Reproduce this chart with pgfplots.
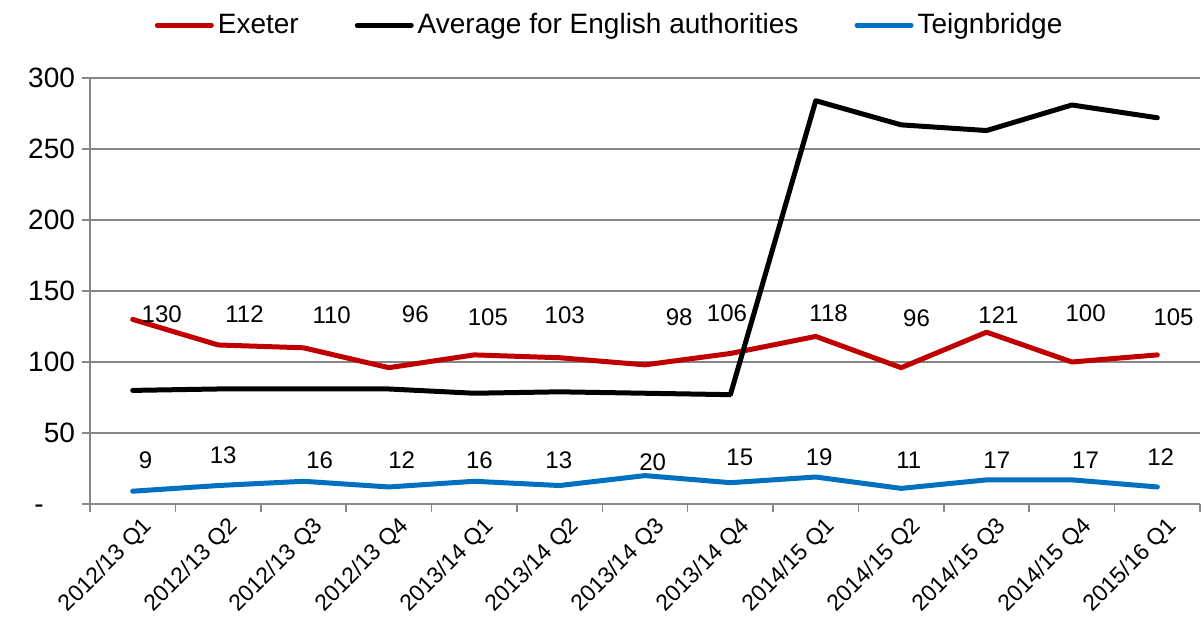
\documentclass[border=0pt]{standalone}
\usepackage{fontspec}
\setmainfont{Liberation Sans}
\usepackage{pgfplots}
\pgfplotsset{compat=1.18}
\definecolor{exred}{HTML}{C00000}
\definecolor{teblue}{HTML}{0070C0}
\definecolor{gridgray}{HTML}{868686}

\begin{document}
\begin{tikzpicture}
\begin{axis}[
    name=ax,
    scale only axis,
    width=555pt, height=213pt,
    xmin=-0.5, xmax=12.5, ymin=0, ymax=300,
    axis x line*=bottom, axis y line*=left,
    axis line style={gridgray, line width=0.75pt, -},
    ytick={0,50,...,300},
    yticklabels={-\phantom{00}\hspace{3pt},50,100,150,200,250,300},
    yticklabel style={font=\fontsize{14}{16}\selectfont},
    ymajorgrids,
    grid style={gridgray, line width=0.75pt},
    tick align=outside, major tick length=4pt,
    tick style={gridgray, line width=0.75pt},
    xtick={-0.5,0.5,...,12.5},
    x tick label as interval,
    xticklabels={2012/13 Q1,2012/13 Q2,2012/13 Q3,2012/13 Q4,2013/14 Q1,2013/14 Q2,2013/14 Q3,2013/14 Q4,2014/15 Q1,2014/15 Q2,2014/15 Q3,2014/15 Q4,2015/16 Q1},
    xticklabel style={rotate=45, anchor=north east, font=\fontsize{11.5}{13}\selectfont,
        inner sep=1pt, xshift=3pt, yshift=-3pt},
    legend columns=3,
    legend style={at={(0.469,1.124)}, anchor=center, draw=none,
        font=\fontsize{14}{16}\selectfont,
        /tikz/every even column/.append style={column sep=26pt}},
    legend image code/.code={\draw[#1] (0pt,0pt) -- (27pt,0pt);},
    every axis plot/.append style={line width=2.5pt, line cap=round, line join=round},
    clip=false,
]

% series
\addplot[exred, mark=none] coordinates {
    (0,130) (1,112) (2,110) (3,96) (4,105) (5,103) (6,98)
    (7,106) (8,118) (9,96) (10,121) (11,100) (12,105)
};
\addlegendentry{Exeter}

\addplot[black, mark=none] coordinates {
    (0,80) (1,81) (2,81) (3,81) (4,78) (5,79) (6,78)
    (7,77) (8,284) (9,267) (10,263) (11,281) (12,272)
};
\addlegendentry{Average for English authorities}

\addplot[teblue, mark=none] coordinates {
    (0,9) (1,13) (2,16) (3,12) (4,16) (5,13) (6,20)
    (7,15) (8,19) (9,11) (10,17) (11,17) (12,12)
};
\addlegendentry{Teignbridge}

% data labels (positions as in the original, moved by hand)
\addplot[forget plot, draw=none, mark=none, nodes near coords, point meta=explicit symbolic,
    nodes near coords style={anchor=center, font=\fontsize{12}{14}\selectfont, text=black}]
    table[meta=lab] {
x y lab
0.34 133.8 130
1.31 133.8 112
2.33 133.1 110
3.31 133.8 96
4.16 131.7 105
5.06 133.1 103
6.40 131.7 98
6.96 134.5 106
8.15 134.5 118
9.18 131.0 96
10.14 133.1 121
11.16 134.5 100
12.19 131.7 105
};

\addplot[forget plot, draw=none, mark=none, nodes near coords, point meta=explicit symbolic,
    nodes near coords style={anchor=center, font=\fontsize{12}{14}\selectfont, text=black}]
    table[meta=lab] {
x y lab
0.15 31.0 9
1.06 34.5 13
2.19 31.0 16
3.15 31.0 12
4.06 31.0 16
4.99 31.0 13
6.09 29.6 20
7.11 33.0 15
8.04 33.0 19
9.09 31.0 11
10.12 31.0 17
11.16 31.0 17
12.04 33.0 12
};

\end{axis}
\pgfresetboundingbox
\path ([shift={(-45pt,-61pt)}]ax.south west) rectangle ([shift={(2pt,39pt)}]ax.north east);
\end{tikzpicture}
\end{document}
